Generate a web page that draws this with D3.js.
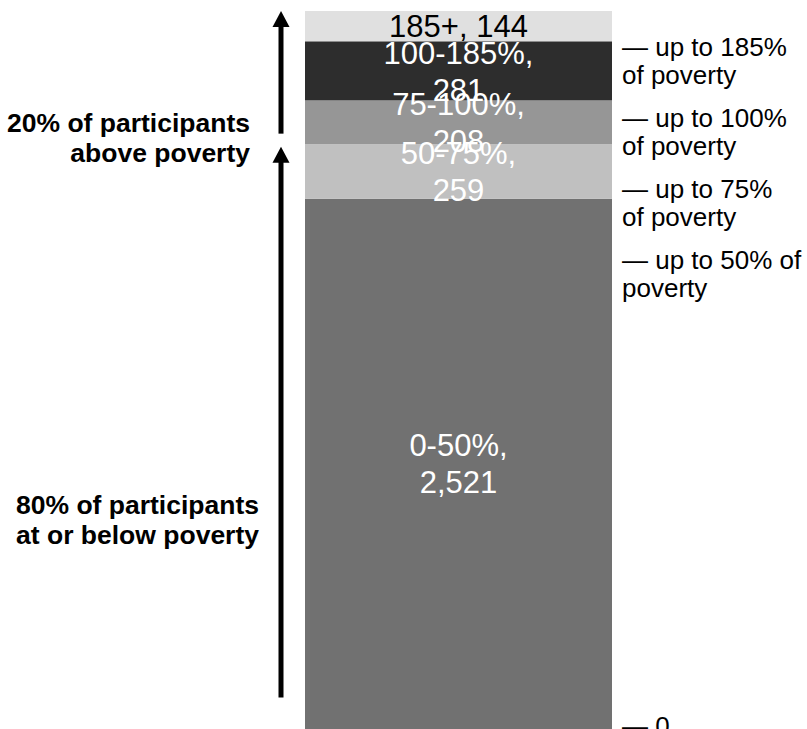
<!DOCTYPE html>
<html>
<head>
<meta charset="utf-8">
<script src="https://cdn.jsdelivr.net/npm/d3@7"></script>
<style>
body { margin: 0; background: #fff; }
svg { display: block; font-family: Arial, "Liberation Sans", sans-serif; }
</style>
</head>
<body>
<svg id="chart" width="807" height="729"></svg>
<script>
// one stacked bar, bottom to top
var categories = ["0-50%", "50-75%", "75-100%", "100-185%", "185+"];
var counts = [2521, 259, 208, 281, 144];
var barLabels = [["0-50%,", "2,521"], ["50-75%,", "259"], ["75-100%,", "208"], ["100-185%,", "281"], ["185+, 144"]];

// right hand "axis" labels
var tickValues = [3269, 2988, 2780, 2521, 0];
var tickLabels = [["— up to 185%", "of poverty"], ["— up to 100%", "of poverty"], ["— up to 75%", "of poverty"], ["— up to 50% of", "poverty"], ["— 0"]];

// annotations on the left: arrow start/end (in counts) and text
var arrowFrom = [2830, 150];
var arrowTo = [3413, 2768];
var noteLines = [["20% of participants", "above poverty"], ["80% of participants", "at or below poverty"]];
var noteAt = [2810, 995];

var width = 807, height = 729;
var svg = d3.select("#chart");

var total = d3.sum(counts);
var y = d3.scaleLinear().domain([0, total]).range([729, 11]);
var x = d3.scaleBand().domain(["all"]).range([305, 612]).padding(0);
var color = d3.scaleOrdinal().domain(categories)
    .range(["#717171", "#c0c0c0", "#969696", "#2d2d2d", "#e0e0e0"]);
var textColor = d3.scaleOrdinal().domain(categories)
    .range(["#fff", "#fff", "#fff", "#fff", "#000"]);

// stack the values
var stacked = [];
var acc = 0;
categories.forEach(function(c, i) {
  stacked.push({cat: c, y0: acc, y1: acc + counts[i], lines: barLabels[i]});
  acc += counts[i];
});

svg.append("g").selectAll("rect")
  .data(stacked)
  .enter().append("rect")
    .attr("x", x("all"))
    .attr("width", x.bandwidth())
    .attr("y", function(d) { return y(d.y1); })
    .attr("height", function(d) { return y(d.y0) - y(d.y1); })
    .style("fill", function(d) { return color(d.cat); });

// labels inside the bar (drawn after all rects so overlaps show like the original)
var fs = 31, lh = 37;
stacked.forEach(function(d) {
  var cy = (y(d.y0) + y(d.y1)) / 2;
  var n = d.lines.length;
  var t = svg.append("text")
    .attr("text-anchor", "middle")
    .style("font-size", fs + "px")
    .style("fill", textColor(d.cat));
  d.lines.forEach(function(line, i) {
    t.append("tspan")
      .attr("x", x("all") + x.bandwidth() / 2)
      .attr("y", cy + (i - (n - 1) / 2) * lh + fs * 0.36)
      .text(line);
  });
});

// right labels, pushed down so they don't collide
var prev = -Infinity;
tickValues.forEach(function(v, i) {
  var pos = Math.max(y(v), prev + 71);
  pos = Math.min(pos, height - 9);
  prev = pos;
  var t = svg.append("text")
    .style("font-size", "26px")
    .style("fill", "#000");
  tickLabels[i].forEach(function(line, j) {
    t.append("tspan")
      .attr("x", 622)
      .attr("y", pos + 15 + j * 28)
      .text(line);
  });
});

// arrows
arrowFrom.forEach(function(v, i) {
  var ax = 281;
  var tip = y(arrowTo[i]);
  svg.append("line")
    .attr("x1", ax).attr("x2", ax)
    .attr("y1", y(v)).attr("y2", tip + 12)
    .style("stroke", "#000")
    .style("stroke-width", 5);
  svg.append("path")
    .attr("d", "M" + ax + "," + tip + "L" + (ax + 8.5) + "," + (tip + 16) + "L" + (ax - 8.5) + "," + (tip + 16) + "Z")
    .style("fill", "#000");
});

// left notes
var noteRight = [250, 259];
noteLines.forEach(function(lines, i) {
  var cy = y(noteAt[i]);
  var t = svg.append("text")
    .attr("text-anchor", "end")
    .style("font-size", "26.5px")
    .style("font-weight", "bold")
    .style("fill", "#000");
  lines.forEach(function(line, j) {
    t.append("tspan")
      .attr("x", noteRight[i])
      .attr("y", cy + (j - 0.5) * 30 + 9.5)
      .text(line);
  });
});
</script>
</body>
</html>
